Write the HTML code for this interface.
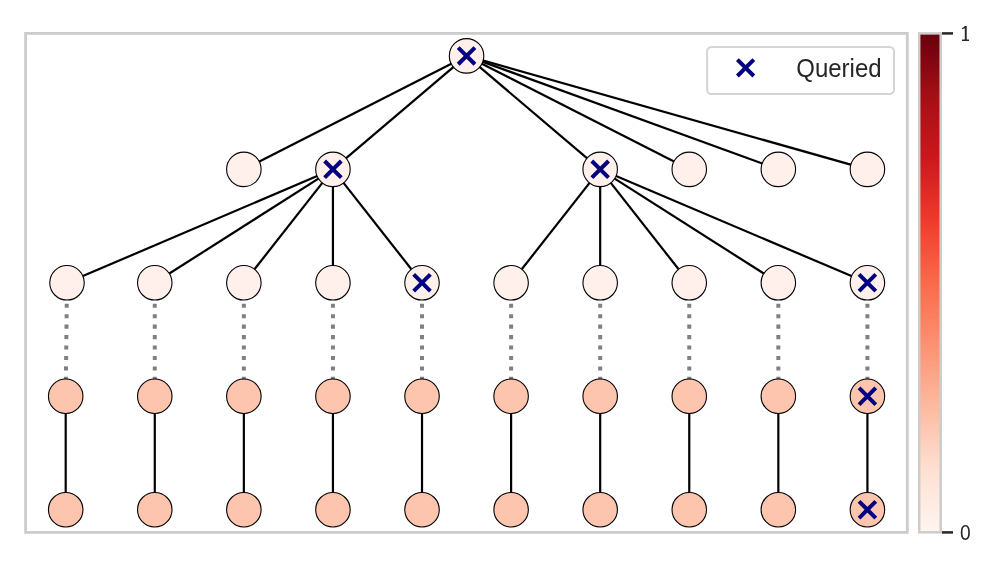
<!DOCTYPE html>
<html><head><meta charset="utf-8"><style>
html,body{margin:0;padding:0;background:#fff;}
body{width:996px;height:570px;overflow:hidden;position:relative;}
svg{position:absolute;left:0;top:0;}
.t{font-family:"Liberation Sans",sans-serif;}
.s{font-family:"Liberation Serif",serif;}
</style></head><body>
<svg width="996" height="570" viewBox="0 0 996 570">
<defs><linearGradient id="g" x1="0" y1="0" x2="0" y2="1"><stop offset="0.0000" stop-color="#67000d"/><stop offset="0.1250" stop-color="#a50f15"/><stop offset="0.2500" stop-color="#cb181d"/><stop offset="0.3750" stop-color="#ef3b2c"/><stop offset="0.5000" stop-color="#fb6a4a"/><stop offset="0.6250" stop-color="#fc9272"/><stop offset="0.7500" stop-color="#fcbba1"/><stop offset="0.8750" stop-color="#fee0d2"/><stop offset="1.0000" stop-color="#fff5f0"/></linearGradient></defs>
<rect x="25.6" y="33.4" width="881.7" height="499" fill="none" stroke="#cccccc" stroke-width="2.8"/>
<line x1="466.56" y1="55.90" x2="243.86" y2="169.35" stroke="#000" stroke-width="2.2"/>
<line x1="466.56" y1="55.90" x2="332.94" y2="169.35" stroke="#000" stroke-width="2.2"/>
<line x1="466.56" y1="55.90" x2="600.18" y2="169.35" stroke="#000" stroke-width="2.2"/>
<line x1="466.56" y1="55.90" x2="689.26" y2="169.35" stroke="#000" stroke-width="2.2"/>
<line x1="466.56" y1="55.90" x2="778.34" y2="169.35" stroke="#000" stroke-width="2.2"/>
<line x1="466.56" y1="55.90" x2="867.42" y2="169.35" stroke="#000" stroke-width="2.2"/>
<line x1="332.94" y1="169.35" x2="67.00" y2="282.80" stroke="#000" stroke-width="2.2"/>
<line x1="332.94" y1="169.35" x2="154.78" y2="282.80" stroke="#000" stroke-width="2.2"/>
<line x1="332.94" y1="169.35" x2="243.86" y2="282.80" stroke="#000" stroke-width="2.2"/>
<line x1="332.94" y1="169.35" x2="332.94" y2="282.80" stroke="#000" stroke-width="2.2"/>
<line x1="332.94" y1="169.35" x2="422.02" y2="282.80" stroke="#000" stroke-width="2.2"/>
<line x1="600.18" y1="169.35" x2="511.10" y2="282.80" stroke="#000" stroke-width="2.2"/>
<line x1="600.18" y1="169.35" x2="600.18" y2="282.80" stroke="#000" stroke-width="2.2"/>
<line x1="600.18" y1="169.35" x2="689.26" y2="282.80" stroke="#000" stroke-width="2.2"/>
<line x1="600.18" y1="169.35" x2="778.34" y2="282.80" stroke="#000" stroke-width="2.2"/>
<line x1="600.18" y1="169.35" x2="867.42" y2="282.80" stroke="#000" stroke-width="2.2"/>
<line x1="67.00" y1="282.80" x2="65.70" y2="396.25" stroke="#808080" stroke-width="4" stroke-dasharray="4.1 6.35"/>
<line x1="65.70" y1="396.25" x2="65.70" y2="509.70" stroke="#000" stroke-width="2.2"/>
<line x1="154.78" y1="282.80" x2="154.78" y2="396.25" stroke="#808080" stroke-width="4" stroke-dasharray="4.1 6.35"/>
<line x1="154.78" y1="396.25" x2="154.78" y2="509.70" stroke="#000" stroke-width="2.2"/>
<line x1="243.86" y1="282.80" x2="243.86" y2="396.25" stroke="#808080" stroke-width="4" stroke-dasharray="4.1 6.35"/>
<line x1="243.86" y1="396.25" x2="243.86" y2="509.70" stroke="#000" stroke-width="2.2"/>
<line x1="332.94" y1="282.80" x2="332.94" y2="396.25" stroke="#808080" stroke-width="4" stroke-dasharray="4.1 6.35"/>
<line x1="332.94" y1="396.25" x2="332.94" y2="509.70" stroke="#000" stroke-width="2.2"/>
<line x1="422.02" y1="282.80" x2="422.02" y2="396.25" stroke="#808080" stroke-width="4" stroke-dasharray="4.1 6.35"/>
<line x1="422.02" y1="396.25" x2="422.02" y2="509.70" stroke="#000" stroke-width="2.2"/>
<line x1="511.10" y1="282.80" x2="511.10" y2="396.25" stroke="#808080" stroke-width="4" stroke-dasharray="4.1 6.35"/>
<line x1="511.10" y1="396.25" x2="511.10" y2="509.70" stroke="#000" stroke-width="2.2"/>
<line x1="600.18" y1="282.80" x2="600.18" y2="396.25" stroke="#808080" stroke-width="4" stroke-dasharray="4.1 6.35"/>
<line x1="600.18" y1="396.25" x2="600.18" y2="509.70" stroke="#000" stroke-width="2.2"/>
<line x1="689.26" y1="282.80" x2="689.26" y2="396.25" stroke="#808080" stroke-width="4" stroke-dasharray="4.1 6.35"/>
<line x1="689.26" y1="396.25" x2="689.26" y2="509.70" stroke="#000" stroke-width="2.2"/>
<line x1="778.34" y1="282.80" x2="778.34" y2="396.25" stroke="#808080" stroke-width="4" stroke-dasharray="4.1 6.35"/>
<line x1="778.34" y1="396.25" x2="778.34" y2="509.70" stroke="#000" stroke-width="2.2"/>
<line x1="867.42" y1="282.80" x2="867.42" y2="396.25" stroke="#808080" stroke-width="4" stroke-dasharray="4.1 6.35"/>
<line x1="867.42" y1="396.25" x2="867.42" y2="509.70" stroke="#000" stroke-width="2.2"/>
<circle cx="466.56" cy="55.90" r="17.25" fill="#fff0eb" stroke="#000" stroke-width="1.1"/>
<circle cx="243.86" cy="169.35" r="17.25" fill="#fff0eb" stroke="#000" stroke-width="1.1"/>
<circle cx="332.94" cy="169.35" r="17.25" fill="#fff0eb" stroke="#000" stroke-width="1.1"/>
<circle cx="600.18" cy="169.35" r="17.25" fill="#fff0eb" stroke="#000" stroke-width="1.1"/>
<circle cx="689.26" cy="169.35" r="17.25" fill="#fff0eb" stroke="#000" stroke-width="1.1"/>
<circle cx="778.34" cy="169.35" r="17.25" fill="#fff0eb" stroke="#000" stroke-width="1.1"/>
<circle cx="867.42" cy="169.35" r="17.25" fill="#fff0eb" stroke="#000" stroke-width="1.1"/>
<circle cx="67.00" cy="282.80" r="17.25" fill="#fff0eb" stroke="#000" stroke-width="1.1"/>
<circle cx="154.78" cy="282.80" r="17.25" fill="#fff0eb" stroke="#000" stroke-width="1.1"/>
<circle cx="243.86" cy="282.80" r="17.25" fill="#fff0eb" stroke="#000" stroke-width="1.1"/>
<circle cx="332.94" cy="282.80" r="17.25" fill="#fff0eb" stroke="#000" stroke-width="1.1"/>
<circle cx="422.02" cy="282.80" r="17.25" fill="#fff0eb" stroke="#000" stroke-width="1.1"/>
<circle cx="511.10" cy="282.80" r="17.25" fill="#fff0eb" stroke="#000" stroke-width="1.1"/>
<circle cx="600.18" cy="282.80" r="17.25" fill="#fff0eb" stroke="#000" stroke-width="1.1"/>
<circle cx="689.26" cy="282.80" r="17.25" fill="#fff0eb" stroke="#000" stroke-width="1.1"/>
<circle cx="778.34" cy="282.80" r="17.25" fill="#fff0eb" stroke="#000" stroke-width="1.1"/>
<circle cx="867.42" cy="282.80" r="17.25" fill="#fff0eb" stroke="#000" stroke-width="1.1"/>
<circle cx="65.70" cy="396.25" r="17.25" fill="#fdc5ae" stroke="#000" stroke-width="1.1"/>
<circle cx="154.78" cy="396.25" r="17.25" fill="#fdc5ae" stroke="#000" stroke-width="1.1"/>
<circle cx="243.86" cy="396.25" r="17.25" fill="#fdc5ae" stroke="#000" stroke-width="1.1"/>
<circle cx="332.94" cy="396.25" r="17.25" fill="#fdc5ae" stroke="#000" stroke-width="1.1"/>
<circle cx="422.02" cy="396.25" r="17.25" fill="#fdc5ae" stroke="#000" stroke-width="1.1"/>
<circle cx="511.10" cy="396.25" r="17.25" fill="#fdc5ae" stroke="#000" stroke-width="1.1"/>
<circle cx="600.18" cy="396.25" r="17.25" fill="#fdc5ae" stroke="#000" stroke-width="1.1"/>
<circle cx="689.26" cy="396.25" r="17.25" fill="#fdc5ae" stroke="#000" stroke-width="1.1"/>
<circle cx="778.34" cy="396.25" r="17.25" fill="#fdc5ae" stroke="#000" stroke-width="1.1"/>
<circle cx="867.42" cy="396.25" r="17.25" fill="#fdc5ae" stroke="#000" stroke-width="1.1"/>
<circle cx="65.70" cy="509.70" r="17.25" fill="#fdc5ae" stroke="#000" stroke-width="1.1"/>
<circle cx="154.78" cy="509.70" r="17.25" fill="#fdc5ae" stroke="#000" stroke-width="1.1"/>
<circle cx="243.86" cy="509.70" r="17.25" fill="#fdc5ae" stroke="#000" stroke-width="1.1"/>
<circle cx="332.94" cy="509.70" r="17.25" fill="#fdc5ae" stroke="#000" stroke-width="1.1"/>
<circle cx="422.02" cy="509.70" r="17.25" fill="#fdc5ae" stroke="#000" stroke-width="1.1"/>
<circle cx="511.10" cy="509.70" r="17.25" fill="#fdc5ae" stroke="#000" stroke-width="1.1"/>
<circle cx="600.18" cy="509.70" r="17.25" fill="#fdc5ae" stroke="#000" stroke-width="1.1"/>
<circle cx="689.26" cy="509.70" r="17.25" fill="#fdc5ae" stroke="#000" stroke-width="1.1"/>
<circle cx="778.34" cy="509.70" r="17.25" fill="#fdc5ae" stroke="#000" stroke-width="1.1"/>
<circle cx="867.42" cy="509.70" r="17.25" fill="#fdc5ae" stroke="#000" stroke-width="1.1"/>
<path d="M458.21 47.55L474.91 64.25M458.21 64.25L474.91 47.55" stroke="#000080" stroke-width="4" fill="none"/>
<path d="M324.59 161.00L341.29 177.70M324.59 177.70L341.29 161.00" stroke="#000080" stroke-width="4" fill="none"/>
<path d="M591.83 161.00L608.53 177.70M591.83 177.70L608.53 161.00" stroke="#000080" stroke-width="4" fill="none"/>
<path d="M413.67 274.45L430.37 291.15M413.67 291.15L430.37 274.45" stroke="#000080" stroke-width="4" fill="none"/>
<path d="M859.07 274.45L875.77 291.15M859.07 291.15L875.77 274.45" stroke="#000080" stroke-width="4" fill="none"/>
<path d="M859.07 387.90L875.77 404.60M859.07 404.60L875.77 387.90" stroke="#000080" stroke-width="4" fill="none"/>
<path d="M859.07 501.35L875.77 518.05M859.07 518.05L875.77 501.35" stroke="#000080" stroke-width="4" fill="none"/>
<rect x="707.1" y="47" width="186.9" height="47" rx="4.5" fill="#fff" fill-opacity="0.8" stroke="#d4d4d4" stroke-width="2"/>
<path d="M737.4 59.6L753.8 76.0M737.4 76.0L753.8 59.6" stroke="#000080" stroke-width="4" fill="none"/>
<g style="filter:grayscale(1)"><text x="796.3" y="77.3" class="t" font-size="25" fill="#262626" textLength="85.3" lengthAdjust="spacingAndGlyphs">Queried</text></g>
<rect x="919.2" y="33.4" width="21.5" height="498.9" fill="url(#g)" stroke="#cccccc" stroke-width="2.5"/>
<line x1="942" y1="33.4" x2="953" y2="33.4" stroke="#262626" stroke-width="2.5"/>
<line x1="942" y1="532.4" x2="953" y2="532.4" stroke="#262626" stroke-width="2.5"/>
<path d="M964.8 26.1H966.7V39.6H969V41H962V39.6H964.8V28.3Q963.6 29.1 962 29.1V28Q964 27.8 964.8 26.1Z" fill="#262626"/>
<g style="filter:grayscale(1)"><text transform="translate(960.0 540.35) scale(0.84 1)" class="t" font-size="22.9" fill="#262626">0</text></g>
</svg>
</body></html>
